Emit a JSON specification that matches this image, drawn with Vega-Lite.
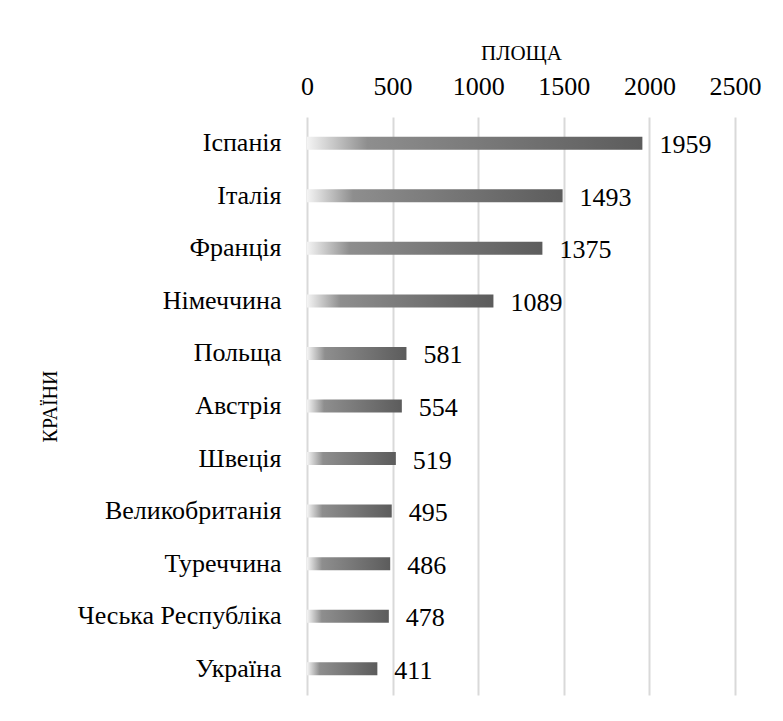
{
  "$schema": "https://vega.github.io/schema/vega-lite/v6.json",
  "width": 428,
  "height": 578,
  "autosize": "none",
  "padding": {"left": 307, "top": 117, "right": 48, "bottom": 26},
  "background": "white",
  "config": {
    "view": {"stroke": null},
    "font": "'Liberation Serif', 'Times New Roman', serif"
  },
  "data": {
    "values": [
      {"country": "Іспанія", "area": 1959},
      {"country": "Італія", "area": 1493},
      {"country": "Франція", "area": 1375},
      {"country": "Німеччина", "area": 1089},
      {"country": "Польща", "area": 581},
      {"country": "Австрія", "area": 554},
      {"country": "Швеція", "area": 519},
      {"country": "Великобританія", "area": 495},
      {"country": "Туреччина", "area": 486},
      {"country": "Чеська Республіка", "area": 478},
      {"country": "Україна", "area": 411}
    ]
  },
  "encoding": {
    "y": {
      "field": "country",
      "type": "nominal",
      "sort": {"field": "area", "order": "descending"},
      "scale": {"paddingInner": 0, "paddingOuter": 0},
      "axis": {
        "title": "КРАЇНИ",
        "titleFont": "'Liberation Serif', 'Times New Roman', serif",
        "titleFontSize": 20,
        "titleFontWeight": "normal",
        "titleColor": "#000",
        "titleX": -247,
        "titleY": 289,
        "titleAngle": -90,
        "titleAlign": "center",
        "titleBaseline": "bottom",
        "labelFont": "'Liberation Serif', 'Times New Roman', serif",
        "labelFontSize": 26,
        "labelColor": "#000",
        "labelPadding": 26,
        "labelLimit": 400,
        "ticks": false,
        "domain": false,
        "grid": false
      }
    },
    "x": {
      "field": "area",
      "type": "quantitative",
      "scale": {"domain": [0, 2500], "nice": false},
      "axis": {
        "orient": "top",
        "values": [0, 500, 1000, 1500, 2000, 2500],
        "format": "d",
        "title": "ПЛОЩА",
        "titleFont": "'Liberation Serif', 'Times New Roman', serif",
        "titleFontSize": 21,
        "titleFontWeight": "normal",
        "titleColor": "#000",
        "titlePadding": 10,
        "labelFont": "'Liberation Serif', 'Times New Roman', serif",
        "labelFontSize": 26,
        "labelColor": "#000",
        "labelPadding": 18,
        "labelFlush": false,
        "ticks": false,
        "domain": false,
        "grid": true,
        "gridColor": "#d9d9d9",
        "gridWidth": 2
      }
    }
  },
  "layer": [
    {
      "mark": {
        "type": "bar",
        "size": 13,
        "color": {
          "gradient": "linear",
          "x1": 0, "x2": 1, "y1": 0, "y2": 0,
          "stops": [
            {"offset": 0, "color": "#f4f4f4"},
            {"offset": 0.18, "color": "#8e8e8e"},
            {"offset": 1, "color": "#5c5c5c"}
          ]
        }
      }
    },
    {
      "mark": {
        "type": "text",
        "align": "left",
        "baseline": "middle",
        "dx": 17,
        "dy": 2,
        "font": "'Liberation Serif', 'Times New Roman', serif",
        "fontSize": 26,
        "color": "#000"
      },
      "encoding": {
        "text": {"field": "area", "type": "quantitative", "format": "d"}
      }
    }
  ]
}
